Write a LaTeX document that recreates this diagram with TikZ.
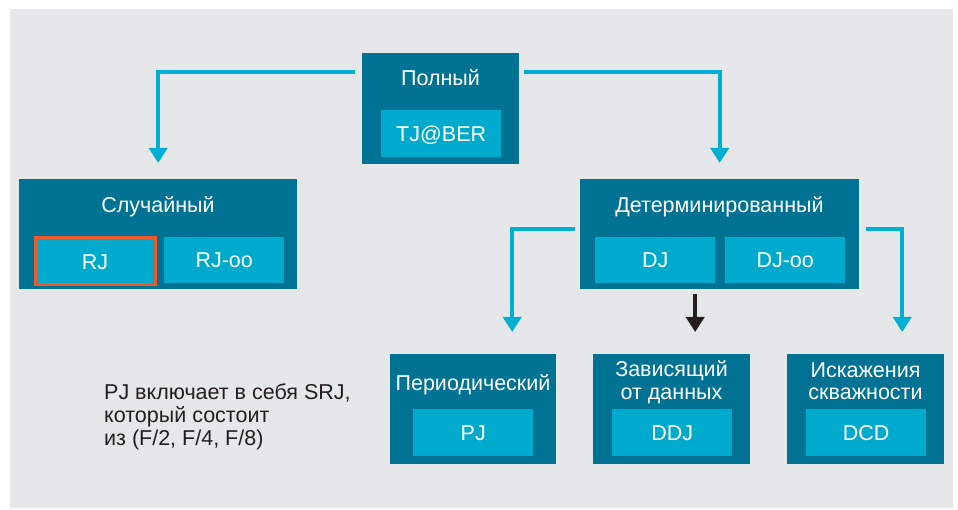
\documentclass[tikz,border=0pt]{standalone}
\usepackage{fontspec}
\setmainfont{Liberation Sans}
\usetikzlibrary{arrows.meta,calc}
\definecolor{bg}{RGB}{230,231,232}
\definecolor{darkbox}{RGB}{0,114,148}
\definecolor{lightbox}{RGB}{0,170,205}
\definecolor{lineblue}{RGB}{0,176,212}
\definecolor{hiorange}{RGB}{240,90,40}
\definecolor{textdark}{RGB}{35,31,32}
\begin{document}
\begin{tikzpicture}[x=1pt,y=-1pt,
  font=\fontsize{21.5}{22.8}\selectfont,
  outerbox/.style={fill=darkbox, inner sep=0pt, anchor=north west},
  innerbox/.style={fill=lightbox, inner sep=0pt, anchor=north west, text=white,
    text height=15.2pt, text depth=0pt, minimum width=120pt, minimum height=47pt},
  title/.style={text=white, inner sep=0pt, anchor=base, align=center},
  conn/.style={draw=lineblue, line width=4pt, -{Triangle[width=18pt,length=15pt]}},
  blackconn/.style={draw=textdark, line width=4pt, -{Triangle[width=18pt,length=15pt]}}
]
\useasboundingbox (0,0) rectangle (958,510);
\fill[bg] (10,9) rectangle (953,508);

% top
\node[outerbox, minimum width=157pt, minimum height=111pt] (top) at (362,53) {};
\node[title] (topt) at (440.5,86) {Полный};
\node[innerbox] (tj) at (381,110) {TJ@BER};

% random
\node[outerbox, minimum width=278pt, minimum height=110pt] (rand) at (19,179) {};
\node[title] (randt) at (158,213) {Случайный};
\node[innerbox, draw=hiorange, line width=3pt, minimum width=120pt, minimum height=47pt] (rj) at (33.5,236.5) {RJ};
\node[innerbox, minimum height=46pt] (rjoo) at (164,237) {RJ-oo};

% deterministic
\node[outerbox, minimum width=279pt, minimum height=110pt] (det) at (580,179) {};
\node[title] (dett) at (719.5,213) {Детерминированный};
\node[innerbox, minimum height=46pt] (dj) at (595,237) {DJ};
\node[innerbox, minimum height=46pt] (djoo) at (725,237) {DJ-oo};

% periodic
\node[outerbox, minimum width=166pt, minimum height=110pt] (per) at (390,354) {};
\node[title] (pert) at (473,390) {Периодический};
\node[innerbox] (pj) at (413,409) {PJ};

% data dependent
\node[outerbox, minimum width=157pt, minimum height=110pt] (dep) at (593,354) {};
\node[title] (dept1) at (671.5,377) {Зависящий};
\node[title] (dept2) at (671.5,399.3) {от данных};
\node[innerbox] (ddj) at (612,409) {DDJ};

% duty cycle
\node[outerbox, minimum width=157pt, minimum height=110pt] (dcd) at (787,354) {};
\node[title] (dcdt1) at (865.5,377.3) {Искажения};
\node[title] (dcdt2) at (865.5,399.3) {скважности};
\node[innerbox] (dcdi) at (806,409) {DCD};

% note
\node[anchor=base west, inner sep=0pt, text=textdark, align=left] (note) at (104,445)
  {PJ включает в себя SRJ,\\который состоит\\из (F/2, F/4, F/8)};

% connectors
\draw[conn] ([xshift=-7pt,yshift=-19pt]top.north west) -| ([yshift=16pt]rand.north);
\draw[conn] ([xshift=5pt,yshift=-19pt]top.north east) -| ([yshift=16pt]det.north);
\draw[conn] ([xshift=-5pt,yshift=-50pt]det.north west) -| ([xshift=39pt,yshift=22pt]per.north);
\draw[conn] ([xshift=7pt,yshift=-50pt]det.north east) -| ([xshift=36.5pt,yshift=22pt]dcd.north);
\coordinate (bx) at ([xshift=23.5pt,yshift=22pt]dep.north);
\draw[blackconn] ([yshift=-5pt]bx |- det.south) -- (bx);
\end{tikzpicture}
\end{document}
